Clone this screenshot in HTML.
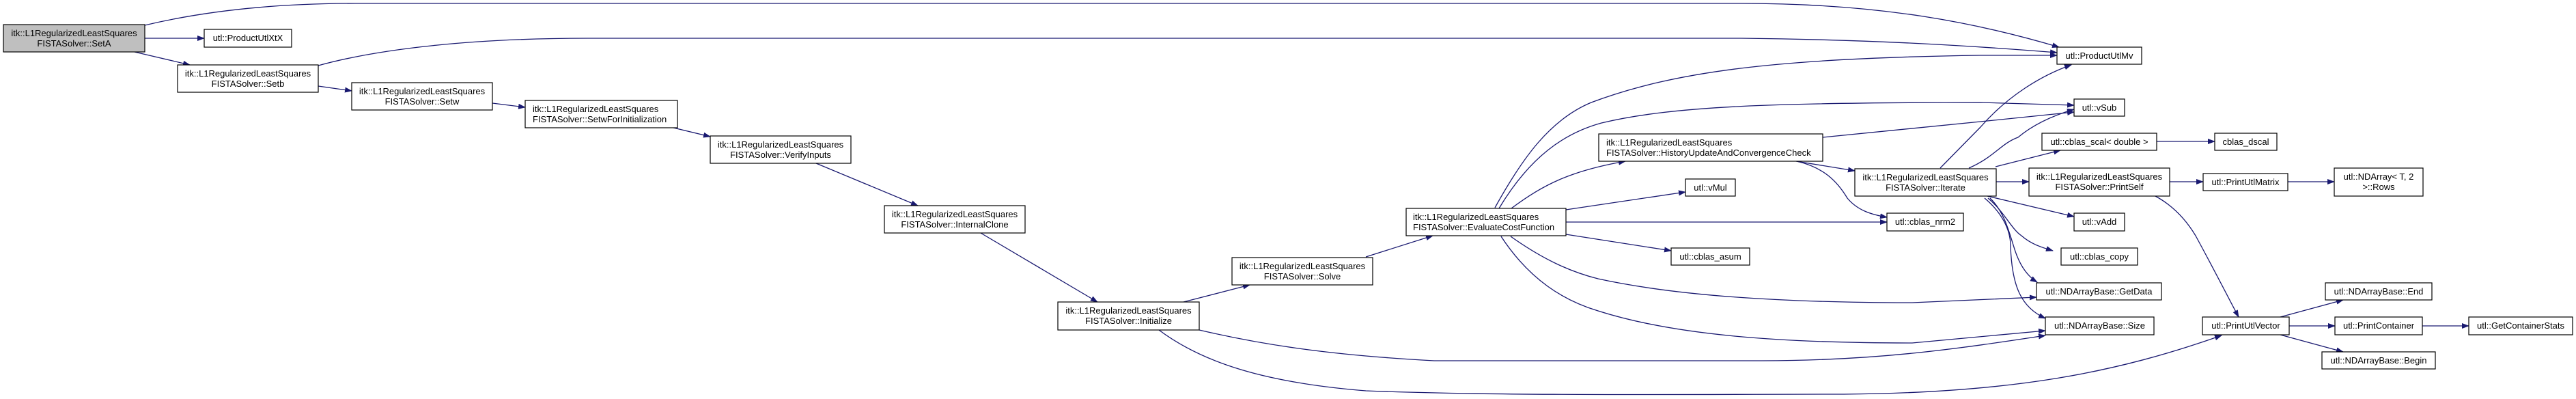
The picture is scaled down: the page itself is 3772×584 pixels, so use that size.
<!DOCTYPE html>
<html><head><meta charset="utf-8"><style>
html,body{margin:0;padding:0;background:#fff;}
svg{display:block;}
text{font-family:"Liberation Sans",Arial,sans-serif;font-size:13px;fill:#000;}
.e{fill:none;stroke:#191970;stroke-width:1.3;}
.n{fill:#fff;stroke:#000;stroke-width:1.2;}
</style></head><body>
<svg width="3772" height="584" viewBox="0 0 3772 584" xmlns="http://www.w3.org/2000/svg">
<defs><marker id="a" markerWidth="11" markerHeight="8" refX="10" refY="4" orient="auto" markerUnits="userSpaceOnUse"><path d="M0,0 L11,4 L0,8 z" fill="#191970"/></marker></defs>
<g marker-end="url(#a)">
<path class="e" d="M212,37 C300,16 400,5 520,5 L2550,5 C2760,5 2900,35 3015,69"/>
<path class="e" d="M212,56 L299,56"/>
<path class="e" d="M197,76 L278,95"/>
<path class="e" d="M466,96 C560,70 700,56 860,56 L2550,56 C2750,58 2900,68 3012,77"/>
<path class="e" d="M466,126 L515,133"/>
<path class="e" d="M721,151 L769,157"/>
<path class="e" d="M982,186 L1040,200"/>
<path class="e" d="M1195,239 L1344,301"/>
<path class="e" d="M1436,341 L1607,442"/>
<path class="e" d="M1733,442 L1830,417"/>
<path class="e" d="M2000,376 L2098,345"/>
<path class="e" d="M1756,483 C1850,505 1950,520 2100,528 L2580,528 C2750,528 2870,510 2995,491"/>
<path class="e" d="M1697,483 C1760,530 1850,560 2000,572 C2200,580 2500,577 2700,577 C2950,575 3100,545 3253,491"/>
<path class="e" d="M2189,304 C2230,230 2270,175 2330,150 C2450,105 2600,85 2900,81 L3012,81"/>
<path class="e" d="M2195,305 C2240,230 2290,195 2345,180 C2450,155 2600,150 2900,150 L3037,154"/>
<path class="e" d="M2213,305 C2260,270 2300,250 2380,236"/>
<path class="e" d="M2293,307 L2468,281"/>
<path class="e" d="M2293,325 L2763,325"/>
<path class="e" d="M2293,343 L2447,367"/>
<path class="e" d="M2212,346 C2260,380 2300,398 2340,408 C2450,432 2600,443 2800,443 L2982,435"/>
<path class="e" d="M2198,346 C2240,410 2290,440 2340,455 C2450,490 2600,502 2800,502 L2995,484"/>
<path class="e" d="M2669,201 L2900,178 L3037,164"/>
<path class="e" d="M2630,236 L2716,250"/>
<path class="e" d="M2631,236 C2670,245 2690,265 2705,290 C2720,308 2740,314 2763,318"/>
<path class="e" d="M2841,246 L2900,186 C2940,140 2990,110 3033,95"/>
<path class="e" d="M2883,246 C2920,230 2930,210 2955,201 C2980,180 3010,168 3037,160"/>
<path class="e" d="M2922,244 L3017,220"/>
<path class="e" d="M2922,266 L2971,266"/>
<path class="e" d="M2910,287 L3037,317"/>
<path class="e" d="M2911,290 C2935,310 2945,335 2960,345 C2975,358 2990,362 3006,367"/>
<path class="e" d="M2914,290 C2935,310 2942,340 2950,365 C2958,390 2970,405 2983,413"/>
<path class="e" d="M2906,290 C2930,310 2944,335 2944,360 C2946,420 2960,450 2995,466"/>
<path class="e" d="M3158,207 L3243,207"/>
<path class="e" d="M3177,266 L3226,266"/>
<path class="e" d="M3350,266 L3418,266"/>
<path class="e" d="M3156,287 C3180,300 3200,320 3215,345 C3245,400 3265,440 3278,464"/>
<path class="e" d="M3339,464 L3431,439"/>
<path class="e" d="M3352,477 L3419,477"/>
<path class="e" d="M3339,490 L3431,515"/>
<path class="e" d="M3547,477 L3615,477"/>
</g>
<g>
<rect x="5" y="36" width="207" height="40" fill="#bfbfbf" stroke="#000" stroke-width="1.2"/>
<text x="108.5" y="53" text-anchor="middle">itk::L1RegularizedLeastSquares</text><text x="108.5" y="68" text-anchor="middle">FISTASolver::SetA</text>
<rect class="n" x="299" y="43" width="128" height="26"/><text x="363" y="60" text-anchor="middle">utl::ProductUtlXtX</text>
<rect class="n" x="260" y="95" width="206" height="40"/><text x="363" y="112" text-anchor="middle">itk::L1RegularizedLeastSquares</text><text x="363" y="127" text-anchor="middle">FISTASolver::Setb</text>
<rect class="n" x="515" y="121" width="206" height="40"/><text x="618" y="138" text-anchor="middle">itk::L1RegularizedLeastSquares</text><text x="618" y="153" text-anchor="middle">FISTASolver::Setw</text>
<rect class="n" x="769" y="147" width="223" height="40"/><text x="780" y="164">itk::L1RegularizedLeastSquares</text><text x="780" y="179">FISTASolver::SetwForInitialization</text>
<rect class="n" x="1040" y="199" width="206" height="40"/><text x="1143" y="216" text-anchor="middle">itk::L1RegularizedLeastSquares</text><text x="1143" y="231" text-anchor="middle">FISTASolver::VerifyInputs</text>
<rect class="n" x="1295" y="301" width="206" height="40"/><text x="1398" y="318" text-anchor="middle">itk::L1RegularizedLeastSquares</text><text x="1398" y="333" text-anchor="middle">FISTASolver::InternalClone</text>
<rect class="n" x="1549" y="442" width="207" height="41"/><text x="1652.5" y="459" text-anchor="middle">itk::L1RegularizedLeastSquares</text><text x="1652.5" y="474" text-anchor="middle">FISTASolver::Initialize</text>
<rect class="n" x="1804" y="377" width="206" height="40"/><text x="1907" y="394" text-anchor="middle">itk::L1RegularizedLeastSquares</text><text x="1907" y="409" text-anchor="middle">FISTASolver::Solve</text>
<rect class="n" x="2059" y="305" width="234" height="40"/><text x="2069" y="322">itk::L1RegularizedLeastSquares</text><text x="2069" y="337">FISTASolver::EvaluateCostFunction</text>
<rect class="n" x="2341" y="196" width="328" height="40"/><text x="2352" y="213">itk::L1RegularizedLeastSquares</text><text x="2352" y="228">FISTASolver::HistoryUpdateAndConvergenceCheck</text>
<rect class="n" x="2468" y="262" width="73" height="25"/><text x="2504.5" y="279" text-anchor="middle">utl::vMul</text>
<rect class="n" x="2763" y="312" width="112" height="26"/><text x="2819" y="329" text-anchor="middle">utl::cblas_nrm2</text>
<rect class="n" x="2447" y="363" width="115" height="25"/><text x="2504.5" y="380" text-anchor="middle">utl::cblas_asum</text>
<rect class="n" x="2716" y="247" width="207" height="40"/><text x="2819.5" y="264" text-anchor="middle">itk::L1RegularizedLeastSquares</text><text x="2819.5" y="279" text-anchor="middle">FISTASolver::Iterate</text>
<rect class="n" x="3012" y="69" width="124" height="25"/><text x="3074" y="86" text-anchor="middle">utl::ProductUtlMv</text>
<rect class="n" x="3037" y="145" width="74" height="25"/><text x="3074" y="162" text-anchor="middle">utl::vSub</text>
<rect class="n" x="2990" y="195" width="168" height="25"/><text x="3074" y="212" text-anchor="middle">utl::cblas_scal&lt; double &gt;</text>
<rect class="n" x="3243" y="195" width="91" height="25"/><text x="3288.5" y="212" text-anchor="middle">cblas_dscal</text>
<rect class="n" x="2971" y="246" width="206" height="41"/><text x="3074" y="263" text-anchor="middle">itk::L1RegularizedLeastSquares</text><text x="3074" y="278" text-anchor="middle">FISTASolver::PrintSelf</text>
<rect class="n" x="3226" y="254" width="124" height="25"/><text x="3288" y="271" text-anchor="middle">utl::PrintUtlMatrix</text>
<rect class="n" x="3418" y="246" width="130" height="41"/><text x="3483" y="263" text-anchor="middle">utl::NDArray&lt; T, 2</text><text x="3483" y="278" text-anchor="middle">&gt;::Rows</text>
<rect class="n" x="3037" y="312" width="74" height="26"/><text x="3074" y="329" text-anchor="middle">utl::vAdd</text>
<rect class="n" x="3018" y="363" width="112" height="25"/><text x="3074" y="380" text-anchor="middle">utl::cblas_copy</text>
<rect class="n" x="2982" y="414" width="183" height="25"/><text x="3073.5" y="431" text-anchor="middle">utl::NDArrayBase::GetData</text>
<rect class="n" x="2995" y="464" width="159" height="26"/><text x="3074.5" y="481" text-anchor="middle">utl::NDArrayBase::Size</text>
<rect class="n" x="3225" y="464" width="127" height="26"/><text x="3288.5" y="481" text-anchor="middle">utl::PrintUtlVector</text>
<rect class="n" x="3405" y="414" width="156" height="25"/><text x="3483" y="431" text-anchor="middle">utl::NDArrayBase::End</text>
<rect class="n" x="3419" y="464" width="128" height="26"/><text x="3483" y="481" text-anchor="middle">utl::PrintContainer</text>
<rect class="n" x="3615" y="464" width="152" height="26"/><text x="3691" y="481" text-anchor="middle">utl::GetContainerStats</text>
<rect class="n" x="3400" y="515" width="166" height="25"/><text x="3483" y="532" text-anchor="middle">utl::NDArrayBase::Begin</text>
</g>
</svg>
</body></html>
